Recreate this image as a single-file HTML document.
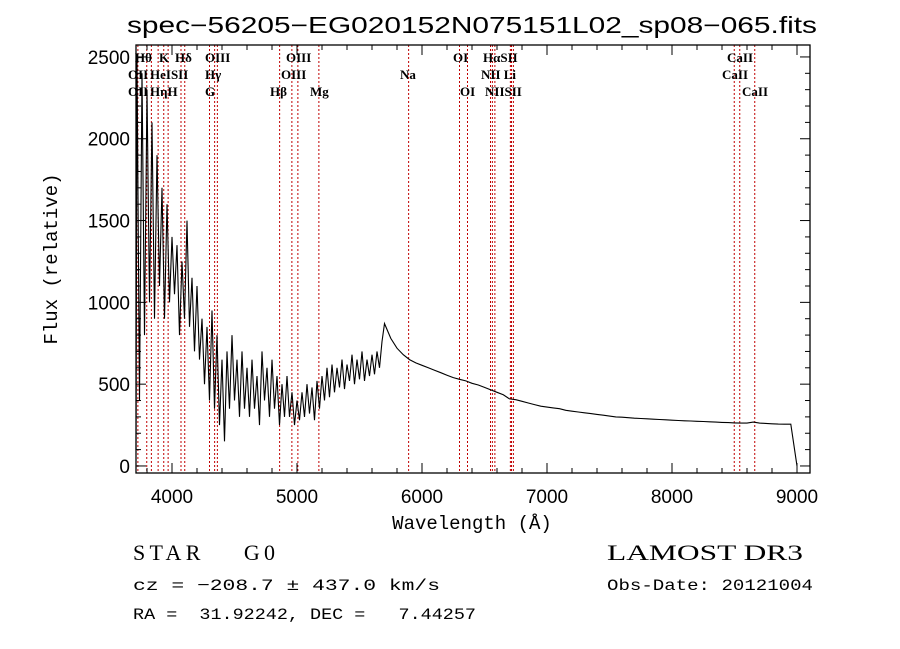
<!DOCTYPE html>
<html><head><meta charset="utf-8"><style>
body{margin:0;background:#fff;}
svg{display:block;font-family:"Liberation Sans",sans-serif;}
</style></head><body>
<svg id="chart" width="900" height="649" viewBox="0 0 900 649" xmlns="http://www.w3.org/2000/svg">
<rect width="900" height="649" fill="#fff"/>
<text x="127" y="33" font-size="23" textLength="690" lengthAdjust="spacingAndGlyphs">spec−56205−EG020152N075151L02_sp08−065.fits</text>
<g id="lines"></g>
<g id="series"></g>
<g id="axes"></g>
<g font-family="Liberation Serif,serif" font-size="13" font-weight="bold" fill="#000">
<text x="135" y="62">Hθ</text><text x="159" y="62">K</text><text x="175" y="62">Hδ</text><text x="205" y="62">OIII</text><text x="286" y="62">OIII</text><text x="453" y="62">OI</text><text x="483" y="62">HαSII</text><text x="727" y="62">CaII</text>
<text x="128" y="79">OII</text><text x="150" y="79">HeISII</text><text x="205" y="79">Hγ</text><text x="281" y="79">OIII</text><text x="400" y="79">Na</text><text x="481" y="79">NII Li</text><text x="722" y="79">CaII</text>
<text x="128" y="96">OII</text><text x="150" y="96">HηH</text><text x="205" y="96">G</text><text x="270" y="96">Hβ</text><text x="310" y="96">Mg</text><text x="460" y="96">OI</text><text x="485" y="96">NIISII</text><text x="742" y="96">CaII</text>
</g>
<text x="472" y="529" font-family="Liberation Mono,monospace" font-size="19" text-anchor="middle">Wavelength (Å)</text>
<text transform="translate(57,259) rotate(-90)" font-family="Liberation Mono,monospace" font-size="19" text-anchor="middle">Flux (relative)</text>
<text x="133" y="560" font-family="Liberation Serif,serif" font-size="22" xml:space="preserve" textLength="142" lengthAdjust="spacing">STAR    G0</text>
<text x="607" y="560" font-family="Liberation Serif,serif" font-size="22" textLength="196" lengthAdjust="spacingAndGlyphs">LAMOST DR3</text>
<text x="133" y="590" font-family="Liberation Mono,monospace" font-size="16" xml:space="preserve" textLength="307" lengthAdjust="spacingAndGlyphs">cz = −208.7 ± 437.0 km/s</text>
<text x="607" y="590" font-family="Liberation Mono,monospace" font-size="16" textLength="206" lengthAdjust="spacingAndGlyphs">Obs-Date: 20121004</text>
<text x="133" y="619" font-family="Liberation Mono,monospace" font-size="16" xml:space="preserve" textLength="343" lengthAdjust="spacingAndGlyphs">RA =  31.92242, DEC =   7.44257</text>
</svg>
<script>
const fluxNoisy=[100,2500,400,2400,800,2300,1000,2100,900,1900,1100,1700,900,1600,1000,1400,1050,1350,800,1250,900,1500,850,1150,700,1100,650,900,500,850,400,950,350,800,250,650,150,700,350,800,400,650,300,700,350,600,300,650,350,550,250,700,400,600,300,650,350,550,250,500,300,550,300,450,250,400,280,450,300,500,320,480,280,520,350,550,400,600,420,620,450,600,480,650,470,620,520,680,500,650,530,700,520,650,550,680,560,700,600,760];
const fluxSmooth=[870,780,720,680,650,630,615,600,585,570,555,540,530,520,505,495,480,465,450,435,410,405,395,385,375,365,360,355,350,340,335,330,325,320,315,310,305,300,298,295,292,290,288,286,284,282,280,278,276,275,273,272,270,268,266,265,263,262,262,268,262,260,258,256,255,255,0];
const lineWaves=[3727,3798,3835,3889,3934,3969,4072,4102,4300,4341,4363,4861,4959,5007,5175,5893,6300,6364,6548,6563,6583,6707,6716,6731,8498,8542,8662];
const xTicks=[4000,5000,6000,7000,8000,9000];
const yTicks=[0,500,1000,1500,2000,2500];
const X0=136,X1=810,Y0=45,Y1=473,WMIN=3712,WMAX=9104,FMIN=-43,FMAX=2573;
const xs=w=>X0+(w-WMIN)/(WMAX-WMIN)*(X1-X0);
const ys=f=>Y1-(f-FMIN)/(FMAX-FMIN)*(Y1-Y0);
const NS="http://www.w3.org/2000/svg";
function mk(t,p){const e=document.createElementNS(NS,t);for(const k in p)e.setAttribute(k,p[k]);return e;}
const lg=document.getElementById('lines');
lineWaves.forEach(w=>{const l=mk('line',{x1:xs(w),x2:xs(w),y1:Y0,y2:Y1,stroke:'#c00000','stroke-width':1,'stroke-dasharray':'2,2'});


lg.appendChild(l);});
const pts=[];
fluxNoisy.forEach((f,i)=>pts.push([3700+i*20,f]));
fluxSmooth.forEach((f,i)=>pts.push([5700+i*50,f]));
const sp=mk('polyline',{points:pts.map(p=>xs(Math.max(p[0],WMIN)).toFixed(1)+','+ys(p[1]).toFixed(1)).join(' '),fill:'none',stroke:'#000','stroke-width':1.1});


document.getElementById('series').appendChild(sp);
const ax=document.getElementById('axes');
const fr=mk('rect',{x:X0,y:Y0,width:X1-X0,height:Y1-Y0,fill:'none',stroke:'#000','stroke-width':1.3});


ax.appendChild(fr);
for(let w=3800;w<=WMAX;w+=200){const maj=w%1000===0,L=maj?10:5;
ax.appendChild(mk('line',{x1:xs(w),x2:xs(w),y1:Y1,y2:Y1-L,stroke:'#000'}));
ax.appendChild(mk('line',{x1:xs(w),x2:xs(w),y1:Y0,y2:Y0+L,stroke:'#000'}));}
for(let f=0;f<=FMAX;f+=100){const maj=f%500===0,L=maj?10:5;
ax.appendChild(mk('line',{x1:X0,x2:X0+L,y1:ys(f),y2:ys(f),stroke:'#000'}));
ax.appendChild(mk('line',{x1:X1,x2:X1-L,y1:ys(f),y2:ys(f),stroke:'#000'}));}
xTicks.forEach(w=>{const t=mk('text',{x:xs(w),y:Y1+30,'font-size':19,'text-anchor':'middle'});t.textContent=w;


ax.appendChild(t);});
yTicks.forEach(f=>{const t=mk('text',{x:X0-6,y:ys(f)+7,'font-size':19,'text-anchor':'end'});t.textContent=f;


ax.appendChild(t);});
</script>
</body></html>
